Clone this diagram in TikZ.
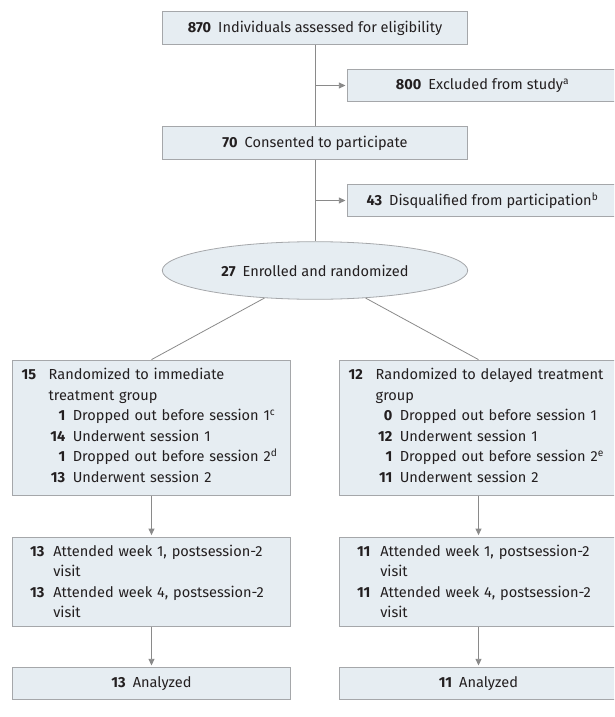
\documentclass[tikz,border=0pt]{standalone}
\usepackage{fontspec}
\setmainfont{Fira Sans}
\usepackage{tikz}
\usetikzlibrary{shapes.geometric,arrows.meta,positioning}
\definecolor{boxfill}{HTML}{E6EDF2}
\definecolor{boxline}{HTML}{A5A7AA}
\definecolor{linkgray}{HTML}{8A8A8A}
\definecolor{inkdark}{HTML}{231F20}
\newcommand{\tally}[1]{\textbf{#1}\hspace{7pt}}
\newcommand{\leadcnt}[1]{\makebox[27pt][l]{\textbf{#1}}}
\newcommand{\subcnt}[1]{\makebox[43.6pt][r]{\textbf{#1}}\hspace{7.5pt}}
\newcommand{\visitcnt}[1]{\makebox[23.3pt][l]{\textbf{#1}}}
\newcommand{\lift}[1]{\rule[-#1]{0pt}{#1}}
\tikzstyle{flowbox}  = [rectangle, draw=boxline, fill=boxfill, line width=0.8pt, minimum width=305.4pt, minimum height=32.6pt, inner sep=0pt, text=inkdark, font=\fontsize{14.55}{20.5}\selectfont]
\tikzstyle{sidebox}  = [flowbox, minimum width=270.4pt, minimum height=32.4pt]
\tikzstyle{roundbox} = [ellipse, draw=boxline, fill=boxfill, line width=0.8pt, minimum width=305.4pt, minimum height=57.6pt, inner sep=0pt, text=inkdark, font=\fontsize{14.55}{20.5}\selectfont]
\tikzstyle{groupbox} = [flowbox, minimum width=278.4pt, minimum height=135.5pt, text width=259.6pt, inner xsep=9.4pt, align=left]
\tikzstyle{visitbox} = [flowbox, minimum width=278.4pt, minimum height=89.7pt, text width=243pt, inner xsep=17.7pt, align=left, font=\fontsize{14.55}{20}\selectfont]
\tikzstyle{endbox}   = [flowbox, minimum width=278.4pt, minimum height=31.7pt]
\tikzstyle{link}     = [draw=linkgray, line width=0.8pt]
\tikzstyle{arrow}    = [link, -{Triangle[length=6.5pt,width=6pt]}, shorten >=1.5pt]

\begin{document}
\begin{tikzpicture}[x=1pt,y=-1pt]
	\useasboundingbox (0,0) rectangle (614,717);
	\clip (0,0) rectangle (614,717);

	% screening
	\node[flowbox] (assessed) at (315,28) {\tally{870}Individuals assessed for eligibility};
	\node[sidebox] (excluded) at (482.5,85.5) {\tally{800}Excluded from study\textsuperscript{a}};
	\node[flowbox] (consented) at (315,143) {\tally{70}Consented to participate};
	\node[sidebox] (disqualified) at (482.5,200.5) {\tally{43}Disqualified from participation\textsuperscript{b}};
	\node[roundbox] (enrolled) at (315,270.5) {\tally{27}Enrolled and randomized};

	% groups
	\node[groupbox] (immediate) at (151.5,427.75) {\leadcnt{15}Randomized to immediate\\
		\leadcnt{}treatment group\\
		\subcnt{1}Dropped out before session 1\textsuperscript{c}\\
		\subcnt{14}Underwent session 1\\
		\subcnt{1}Dropped out before session 2\textsuperscript{d}\\
		\subcnt{13}Underwent session 2\lift{5pt}};
	\node[groupbox] (delayed) at (478.5,427.75) {\leadcnt{12}Randomized to delayed treatment\\
		\leadcnt{}group\\
		\subcnt{0}Dropped out before session 1\\
		\subcnt{12}Underwent session 1\\
		\subcnt{1}Dropped out before session 2\textsuperscript{e}\\
		\subcnt{11}Underwent session 2\lift{5pt}};

	% follow-up
	\node[visitbox] (visitimm) at (151.5,581.85) {\visitcnt{13}Attended week 1, postsession-2\\
		\visitcnt{}visit\\[1pt]
		\visitcnt{13}Attended week 4, postsession-2\\
		\visitcnt{}visit\lift{2pt}};
	\node[visitbox] (visitdel) at (478.5,581.85) {\visitcnt{11}Attended week 1, postsession-2\\
		\visitcnt{}visit\\[1pt]
		\visitcnt{11}Attended week 4, postsession-2\\
		\visitcnt{}visit\lift{2pt}};
	\node[endbox] (analyzedimm) at (151.5,683.15) {\tally{13}Analyzed};
	\node[endbox] (analyzeddel) at (478.5,683.15) {\tally{11}Analyzed};

	% connectors
	\draw[link] (assessed) -- (consented);
	\draw[link] (consented) -- (enrolled);
	\draw[arrow] (assessed.south |- excluded.west) -- (excluded.west);
	\draw[arrow] (consented.south |- disqualified.west) -- (disqualified.west);
	\draw[link] (enrolled) -- (immediate.north);
	\draw[link] (enrolled) -- (delayed.north);
	\draw[arrow] (immediate) -- (visitimm);
	\draw[arrow] (delayed) -- (visitdel);
	\draw[arrow] (visitimm) -- (analyzedimm);
	\draw[arrow] (visitdel) -- (analyzeddel);
\end{tikzpicture}
\end{document}
